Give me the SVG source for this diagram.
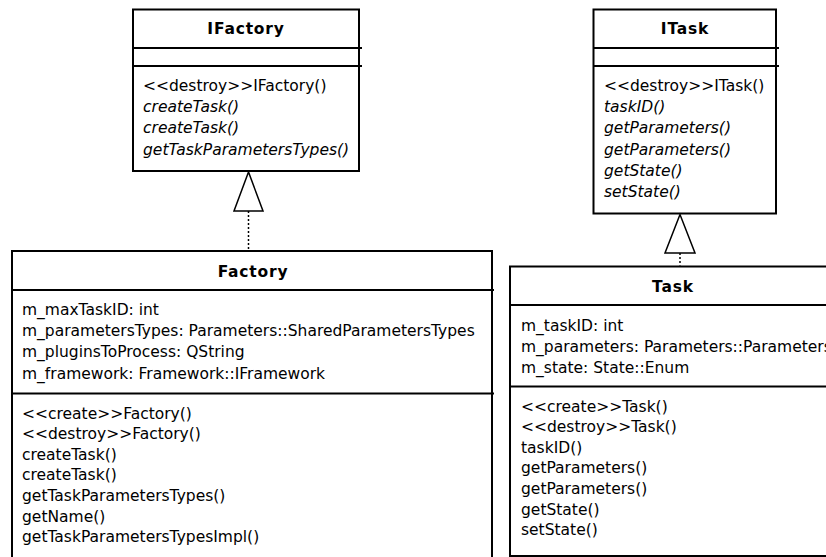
<svg xmlns="http://www.w3.org/2000/svg" width="826" height="557" viewBox="0 0 826 557">
<style>
.box{fill:#fff;stroke:#000;stroke-width:2}
.sep{stroke:#000;stroke-width:2}
.t{font-family:"DejaVu Sans",Verdana,sans-serif;font-size:15.5px;fill:#000}
.title{font-weight:bold;text-anchor:middle;letter-spacing:0.8px}
.i{font-style:italic}
.dot{stroke:#000;stroke-width:1.5;stroke-dasharray:2 2;fill:none}
.tri{fill:#fff;stroke:#000;stroke-width:1.5;stroke-linejoin:miter}
</style>
<rect width="826" height="557" fill="#fff"/>
<g id="IFactory">
<rect class="box" x="133" y="9.5" width="226" height="161.5"/>
<line class="sep" x1="133" y1="48" x2="362" y2="48"/>
<line class="sep" x1="133" y1="66" x2="362" y2="66"/>
<text class="t title" x="246" y="34">IFactory</text>
<text class="t" x="143" y="91">&lt;&lt;destroy&gt;&gt;IFactory()</text>
<text class="t i" x="143" y="112.2">createTask()</text>
<text class="t i" x="143" y="133.4">createTask()</text>
<text class="t i" x="143" y="154.6">getTaskParametersTypes()</text>
</g>
<g id="ITask">
<rect class="box" x="593.5" y="9.5" width="182.5" height="204"/>
<line class="sep" x1="593.5" y1="48" x2="779" y2="48"/>
<line class="sep" x1="593.5" y1="66" x2="779" y2="66"/>
<text class="t title" x="685" y="34">ITask</text>
<text class="t" x="604" y="91">&lt;&lt;destroy&gt;&gt;ITask()</text>
<text class="t i" x="604" y="112.2">taskID()</text>
<text class="t i" x="604" y="133.4">getParameters()</text>
<text class="t i" x="604" y="154.6">getParameters()</text>
<text class="t i" x="604" y="175.8">getState()</text>
<text class="t i" x="604" y="197">setState()</text>
</g>
<g id="Factory">
<rect class="box" x="12" y="251" width="480" height="320"/>
<line class="sep" x1="12" y1="290" x2="494" y2="290"/>
<line class="sep" x1="12" y1="393.5" x2="494" y2="393.5"/>
<text class="t title" x="253" y="276.5">Factory</text>
<text class="t" x="22" y="315">m_maxTaskID: int</text>
<text class="t" x="22" y="336.2">m_parametersTypes: Parameters::SharedParametersTypes</text>
<text class="t" x="22" y="357.4">m_pluginsToProcess: QString</text>
<text class="t" x="22" y="378.6">m_framework: Framework::IFramework</text>
<text class="t" x="22" y="418.5">&lt;&lt;create&gt;&gt;Factory()</text>
<text class="t" x="22" y="439.1">&lt;&lt;destroy&gt;&gt;Factory()</text>
<text class="t" x="22" y="459.7">createTask()</text>
<text class="t" x="22" y="480.3">createTask()</text>
<text class="t" x="22" y="500.9">getTaskParametersTypes()</text>
<text class="t" x="22" y="521.5">getName()</text>
<text class="t" x="22" y="542.1">getTaskParametersTypesImpl()</text>
</g>
<g id="Task">
<rect class="box" x="510" y="266.5" width="330" height="289.5"/>
<line class="sep" x1="510" y1="305" x2="840" y2="305"/>
<line class="sep" x1="510" y1="386.5" x2="840" y2="386.5"/>
<text class="t title" x="673" y="291.5">Task</text>
<text class="t" x="521" y="330.5">m_taskID: int</text>
<text class="t" x="521" y="351.7">m_parameters: Parameters::Parameters</text>
<text class="t" x="521" y="372.9">m_state: State::Enum</text>
<text class="t" x="521" y="411.5">&lt;&lt;create&gt;&gt;Task()</text>
<text class="t" x="521" y="432.1">&lt;&lt;destroy&gt;&gt;Task()</text>
<text class="t" x="521" y="452.7">taskID()</text>
<text class="t" x="521" y="473.3">getParameters()</text>
<text class="t" x="521" y="493.9">getParameters()</text>
<text class="t" x="521" y="514.5">getState()</text>
<text class="t" x="521" y="535.1">setState()</text>
</g>
<g id="connectors">
<line class="dot" x1="248.5" y1="211" x2="248.5" y2="250"/>
<polygon class="tri" points="248.5,172 234,211 263,211"/>
<line class="dot" x1="680" y1="253" x2="680" y2="265.5"/>
<polygon class="tri" points="680,214.5 665,253 695,253"/>
</g>
</svg>
